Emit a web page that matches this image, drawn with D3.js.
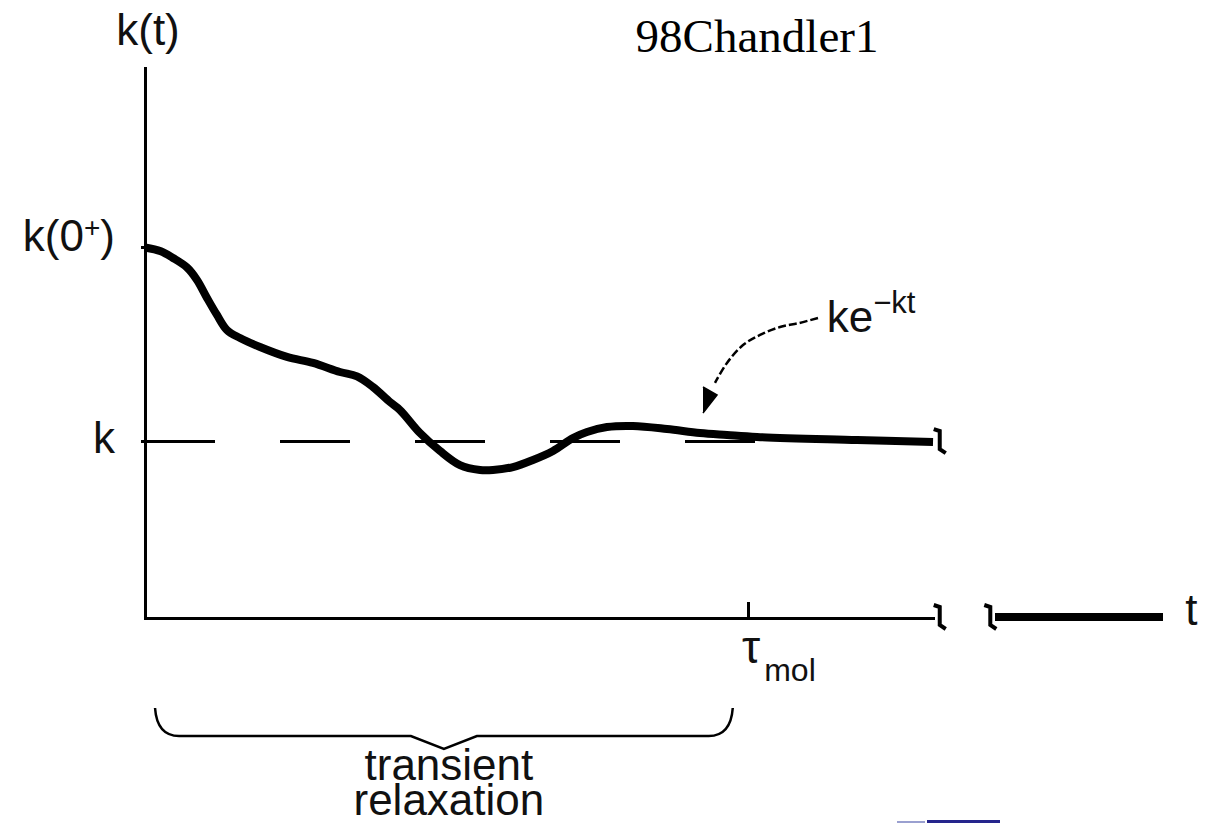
<!DOCTYPE html>
<html>
<head>
<meta charset="utf-8">
<script src="https://cdn.jsdelivr.net/npm/d3@7/dist/d3.min.js"></script>
<style>
  html, body { margin: 0; padding: 0; background: #ffffff; }
  svg { display: block; }
  text { fill: #111; }
</style>
</head>
<body>
<svg id="chart" width="1230" height="823"></svg>
<script>
// Reactive flux correlation k(t) (in units of the plateau rate k) versus time t
const curveT = [0, 0.2, 0.354, 0.532, 0.658, 0.785, 0.911, 1.038, 1.203, 1.456, 1.797,
                2.127, 2.468, 2.684, 2.886, 3.101, 3.228, 3.481, 3.734, 3.987, 4.241,
                4.405, 4.658, 4.911, 5.165, 5.418, 5.595, 5.848, 6.177, 6.608, 7.025,
                7.367, 7.747, 9.013, 9.975];
const curveK = [2.093, 2.072, 2.034, 1.98, 1.91, 1.808, 1.712, 1.627, 1.582, 1.531, 1.475,
                1.441, 1.39, 1.365, 1.305, 1.22, 1.175, 1.045, 0.944, 0.864, 0.836,
                0.836, 0.853, 0.893, 0.944, 1.017, 1.051, 1.079, 1.085, 1.068, 1.045,
                1.034, 1.023, 1.006, 0.994];

// axis ticks
const yTickValues = [2.093, 1];
const yTickNames = ["k(0", "k"];
const yTickSups = ["+", ""];
const xTickValues = [7.633];
const xTickNames = ["τ"];
const xTickSubs = ["mol"];

// time axis extent, break and the far-time segment
const axisEndT = 10;
const axisTopK = 3.113;
const breakT = [10.06, 10.7];
const farSegmentT = [10.76, 12.89];

// curved pointer towards the exponential tail
const arrowT = [8.519, 8.285, 8.038, 7.785, 7.57, 7.367, 7.215];
const arrowK = [1.695, 1.667, 1.644, 1.599, 1.542, 1.441, 1.328];
const arrowHeadT = [7.063, 7.241, 7.063];
const arrowHeadK = [1.305, 1.26, 1.158];
const tailLabelT = 8.63;
const tailLabelK = 1.616;

// span of the transient regime
const transientT = [0.127, 7.44];
const transientLines = ["transient", "relaxation"];

const svg = d3.select("#chart");
const x = d3.scaleLinear().domain([0, axisEndT]).range([145, 935]);
const y = d3.scaleLinear().domain([0, 1]).range([618, 441]);

const sans = "'Liberation Sans', Arial, Helvetica, sans-serif";

// title
svg.append("text")
  .attr("x", 757).attr("y", 52)
  .attr("text-anchor", "middle")
  .style("font-family", "'Liberation Serif', 'DejaVu Serif', serif")
  .style("font-size", "47px")
  .style("fill", "#000")
  .text("98Chandler1");

// y axis
svg.append("line")
  .attr("x1", x(0)).attr("x2", x(0))
  .attr("y1", y(axisTopK)).attr("y2", y(0) + 1.5)
  .attr("stroke", "#000").attr("stroke-width", 3)
  .attr("shape-rendering", "crispEdges");

svg.append("text")
  .attr("x", x(0) + 3).attr("y", 45)
  .attr("text-anchor", "middle")
  .style("font-family", sans).style("font-size", "44px")
  .text("k(t)");

// x axis up to the break
svg.append("line")
  .attr("x1", x(0)).attr("x2", x(axisEndT))
  .attr("y1", y(0)).attr("y2", y(0))
  .attr("stroke", "#000").attr("stroke-width", 3)
  .attr("shape-rendering", "crispEdges");

// far-time segment after the break
svg.append("line")
  .attr("x1", x(farSegmentT[0])).attr("x2", x(farSegmentT[1]))
  .attr("y1", y(0) - 1).attr("y2", y(0) - 1)
  .attr("stroke", "#000").attr("stroke-width", 8)
  .attr("shape-rendering", "crispEdges");

svg.append("text")
  .attr("x", x(farSegmentT[1]) + 28).attr("y", 625)
  .attr("text-anchor", "middle")
  .style("font-family", sans).style("font-size", "44px")
  .text("t");

// break marks (hooks)
function breakMark(cx, cy) {
  const p = d3.path();
  p.moveTo(cx - 6, cy - 13);
  p.lineTo(cx, cy - 11);
  p.lineTo(cx, cy + 7);
  p.lineTo(cx + 6, cy + 11);
  return p.toString();
}
breakT.forEach(t => {
  svg.append("path")
    .attr("d", breakMark(x(t), y(0)))
    .attr("fill", "none").attr("stroke", "#000").attr("stroke-width", 4)
    .attr("stroke-linejoin", "miter");
});
svg.append("path")
  .attr("d", breakMark(x(breakT[0]), y(curveK[curveK.length - 1])))
  .attr("fill", "none").attr("stroke", "#000").attr("stroke-width", 4);

// y ticks and labels
yTickValues.forEach((v, i) => {
  svg.append("line")
    .attr("x1", x(0) - 4).attr("x2", x(0))
    .attr("y1", y(v)).attr("y2", y(v))
    .attr("stroke", "#000").attr("stroke-width", 3)
    .attr("shape-rendering", "crispEdges");
  const lab = svg.append("text")
    .attr("x", x(0) - 30)
    .attr("y", y(v) + (yTickSups[i] ? 3 : 12))
    .attr("text-anchor", "end")
    .style("font-family", sans).style("font-size", "44px");
  lab.append("tspan").text(yTickNames[i]);
  if (yTickSups[i]) {
    lab.append("tspan").attr("dy", -14).style("font-size", "28px").text(yTickSups[i]);
    lab.append("tspan").attr("dy", 14).text(")");
  }
});

// plateau level k (dashed)
svg.append("line")
  .attr("x1", x(0)).attr("x2", x(axisEndT) - 40)
  .attr("y1", y(1)).attr("y2", y(1))
  .attr("stroke", "#000").attr("stroke-width", 3)
  .attr("stroke-dasharray", "70,65")
  .attr("shape-rendering", "crispEdges");

// x tick
xTickValues.forEach((v, i) => {
  svg.append("line")
    .attr("x1", x(v)).attr("x2", x(v))
    .attr("y1", y(0) - 16).attr("y2", y(0))
    .attr("stroke", "#000").attr("stroke-width", 3)
    .attr("shape-rendering", "crispEdges");
  const lab = svg.append("text")
    .attr("x", x(v) - 6).attr("y", 663)
    .style("font-family", sans).style("font-size", "46px");
  lab.append("tspan").text(xTickNames[i]);
  lab.append("tspan").attr("dx", 4).attr("dy", 18).style("font-size", "32px").text(xTickSubs[i]);
});

// k(t) curve
const pts = curveT.map((t, i) => [t, curveK[i]]);
svg.append("path")
  .datum(pts)
  .attr("d", d3.line().x(d => x(d[0])).y(d => y(d[1])).curve(d3.curveCatmullRom.alpha(0.5)))
  .attr("fill", "none").attr("stroke", "#000").attr("stroke-width", 8)
  .attr("stroke-linecap", "butt").attr("stroke-linejoin", "round");

// dashed pointer and its head
const arrowPts = arrowT.map((t, i) => [t, arrowK[i]]);
svg.append("path")
  .datum(arrowPts)
  .attr("d", d3.line().x(d => x(d[0])).y(d => y(d[1])).curve(d3.curveCatmullRom))
  .attr("fill", "none").attr("stroke", "#000").attr("stroke-width", 2.5)
  .attr("stroke-dasharray", "8,3");
svg.append("path")
  .datum(arrowHeadT.map((t, i) => [t, arrowHeadK[i]]))
  .attr("d", d3.line().x(d => x(d[0])).y(d => y(d[1])))
  .attr("fill", "#000").attr("stroke", "#000").attr("stroke-width", 1.5);

const tail = svg.append("text")
  .attr("x", x(tailLabelT)).attr("y", y(tailLabelK))
  .style("font-family", sans).style("font-size", "44px");
tail.append("tspan").text("ke");
tail.append("tspan").attr("dy", -19).style("font-size", "31px").text("−kt");

// brace under the transient regime
const bx0 = x(transientT[0]), bx1 = x(transientT[1]), bm = (bx0 + bx1) / 2;
const bTop = 708, bFlat = 736, bTip = 749;
const brace = d3.path();
brace.moveTo(bx0, bTop);
brace.quadraticCurveTo(bx0 + 2, bFlat, bx0 + 24, bFlat);
brace.lineTo(bm - 33, bFlat);
brace.lineTo(bm, bTip);
brace.lineTo(bm + 33, bFlat);
brace.lineTo(bx1 - 24, bFlat);
brace.quadraticCurveTo(bx1 - 2, bFlat, bx1, bTop);
svg.append("path")
  .attr("d", brace.toString())
  .attr("fill", "none").attr("stroke", "#000").attr("stroke-width", 2.5);

// two-line caption under the brace
const caption = svg.append("text")
  .attr("x", bm + 5).attr("y", 780)
  .attr("text-anchor", "middle")
  .style("font-family", sans).style("font-size", "44px");
transientLines.forEach((line, i) => {
  caption.append("tspan")
    .attr("x", bm + 5)
    .attr("dy", i === 0 ? 0 : 35)
    .text(line);
});

// faint link underline at the bottom edge
svg.append("rect").attr("x", 897).attr("y", 821).attr("width", 28).attr("height", 2)
  .attr("fill", "#9aa0d0");
svg.append("rect").attr("x", 927).attr("y", 820).attr("width", 73).attr("height", 3)
  .attr("fill", "#25258c");
</script>
</body>
</html>
